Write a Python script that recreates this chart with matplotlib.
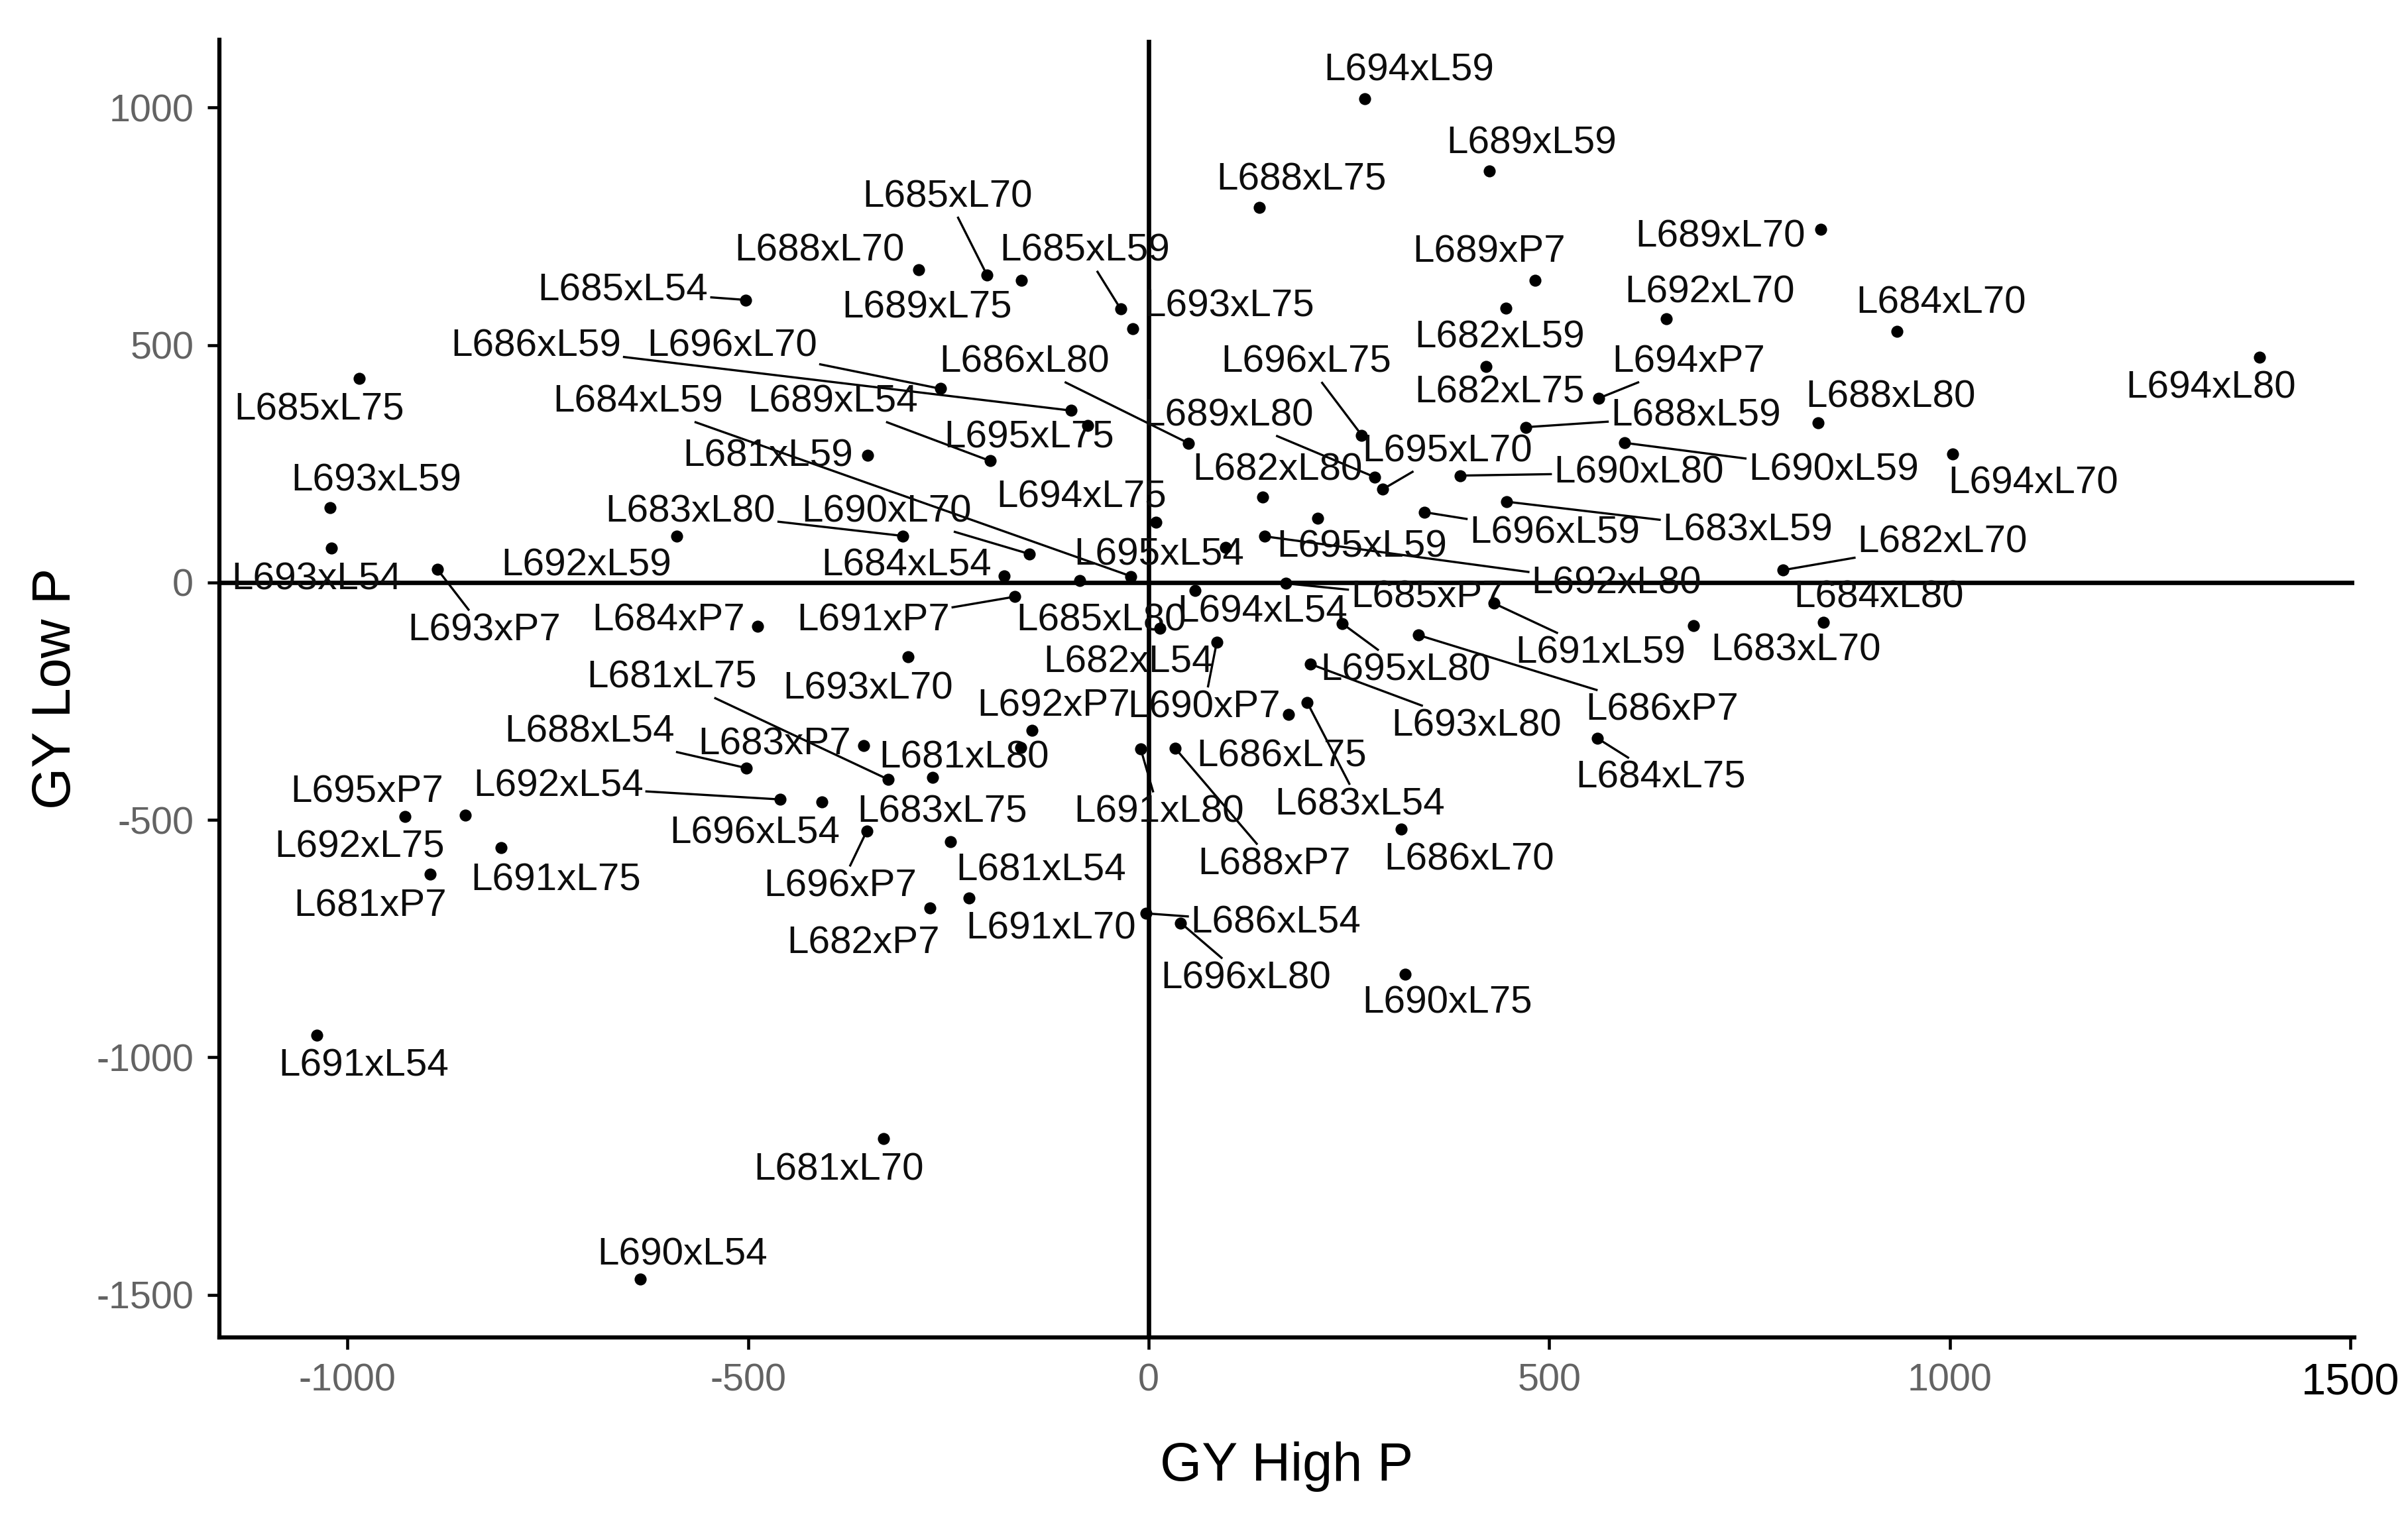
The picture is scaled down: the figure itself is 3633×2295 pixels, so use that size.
import matplotlib
matplotlib.use("Agg")
import matplotlib.pyplot as plt

plt.rcParams['font.family'] = ['Liberation Sans', 'DejaVu Sans']

# ---------------- data ----------------
hybrids = [
    "L681xL54", "L681xL59", "L681xL70", "L681xL75", "L681xL80", "L681xP7",
    "L682xL54", "L682xL59", "L682xL70", "L682xL75", "L682xL80", "L682xP7",
    "L683xL54", "L683xL59", "L683xL70", "L683xL75", "L683xL80", "L683xP7",
    "L684xL54", "L684xL59", "L684xL70", "L684xL75", "L684xL80", "L684xP7",
    "L685xL54", "L685xL59", "L685xL70", "L685xL75", "L685xL80", "L685xP7",
    "L686xL54", "L686xL59", "L686xL70", "L686xL75", "L686xL80", "L686xP7",
    "L688xL54", "L688xL59", "L688xL70", "L688xL75", "L688xL80", "L688xP7",
    "L689xL54", "L689xL59", "L689xL70", "L689xL75", "L689xL80", "L689xP7",
    "L690xL54", "L690xL59", "L690xL70", "L690xL75", "L690xL80", "L690xP7",
    "L691xL54", "L691xL59", "L691xL70", "L691xL75", "L691xL80", "L691xP7",
    "L692xL54", "L692xL59", "L692xL70", "L692xL75", "L692xL80", "L692xP7",
    "L693xL54", "L693xL59", "L693xL70", "L693xL75", "L693xL80", "L693xP7",
    "L694xL54", "L694xL59", "L694xL70", "L694xL75", "L694xL80", "L694xP7",
    "L695xL54", "L695xL59", "L695xL70", "L695xL75", "L695xL80", "L695xP7",
    "L696xL54", "L696xL59", "L696xL70", "L696xL75", "L696xL80", "L696xP7",
]

gy_high_p = [
    -247, -351, -331, -325, -160, -897,
    14, 446, 792, 421, 142, -273,
    198, 447, 680, -270, -307, -356,
    -180, -22, 934, 560, 842, -488,
    -503, -35, -202, -985, -86, 171,
    -3, -97, 315, 175, 50, 337,
    -502, 471, -287, 138, 836, 33,
    -198, 425, 839, -159, 282, 482,
    -635, 594, -149, 320, 389, 85,
    -1038, 431, -224, -808, -10, -167,
    -460, -589, 646, -853, 145, -146,
    -1020, -1022, -300, -20, 202, -888,
    58, 270, 1004, 9, 1387, 562,
    96, 211, 292, -76, 242, -928,
    -408, 344, -260, 266, 40, -352,
]

gy_low_p = [
    -546, 268, -1171, -415, -348, -615,
    -97, 577, 26, 455, 180, -686,
    -253, 170, -91, -411, 98, -344,
    14, 13, 529, -328, -84, -92,
    595, 576, 648, 429, 4, -2,
    -697, 362, -520, -278, 293, -111,
    -391, 327, 658, 790, 336, -349,
    256, 866, 744, 636, 222, 636,
    -1467, 294, 60, -825, 225, -126,
    -953, -44, -665, -559, -350, -30,
    -457, 97, 555, -490, 97, -312,
    73, 157, -157, 534, -172, 28,
    -17, 1018, 271, 127, 474, 388,
    74, 135, 196, 331, -87, -493,
    -462, 148, 408, 310, -717, -524,
]

x_ticks = [-1000, -500, 0, 500, 1000, 1500]
y_ticks = [-1500, -1000, -500, 0, 500, 1000]

# ---------------- layout (label placement, repel-style) ----------------
label_pos = {
    "L681xL54": (-134, -607), "L681xL59": (-475, 266), "L681xL70": (-387, -1237),
    "L681xL75": (-595, -201), "L681xL80": (-230, -370), "L681xP7": (-972, -682),
    "L682xL54": (-25, -169), "L682xL59": (438, 516), "L682xL70": (991, 84),
    "L682xL75": (438, 399), "L682xL80": (161, 237), "L682xP7": (-356, -760),
    "L683xL54": (264, -468), "L683xL59": (748, 110), "L683xL70": (808, -143),
    "L683xL75": (-258, -484), "L683xL80": (-572, 149), "L683xP7": (-467, -341),
    "L684xL54": (-302, 36), "L684xL59": (-637, 380), "L684xL70": (989, 588),
    "L684xL75": (639, -412), "L684xL80": (911, -32), "L684xP7": (-599, -81),
    "L685xL54": (-656, 614), "L685xL59": (-80, 698), "L685xL70": (-251, 812),
    "L685xL75": (-1035, 364), "L685xL80": (-59, -81), "L685xP7": (348, -32),
    "L686xL54": (159, -717), "L686xL59": (-765, 497), "L686xL70": (400, -584),
    "L686xL75": (166, -367), "L686xL80": (-155, 464), "L686xP7": (641, -269),
    "L688xL54": (-698, -315), "L688xL59": (683, 351), "L688xL70": (-411, 698),
    "L688xL75": (191, 847), "L688xL80": (926, 390), "L688xP7": (157, -594),
    "L689xL54": (-394, 380), "L689xL59": (478, 925), "L689xL70": (714, 727),
    "L689xL75": (-277, 578), "L689xL80": (100, 351), "L689xP7": (425, 695),
    "L690xL54": (-582, -1416), "L690xL59": (855, 237), "L690xL70": (-327, 149),
    "L690xL75": (373, -886), "L690xL80": (612, 231), "L690xP7": (69, -263),
    "L691xL54": (-980, -1019), "L691xL59": (564, -149), "L691xL70": (-122, -730),
    "L691xL75": (-740, -627), "L691xL80": (13, -484), "L691xP7": (-344, -81),
    "L692xL54": (-737, -429), "L692xL59": (-702, 36), "L692xL70": (700, 610),
    "L692xL75": (-985, -558), "L692xL80": (584, -3), "L692xP7": (-119, -260),
    "L693xL54": (-1039, 6), "L693xL59": (-964, 214), "L693xL70": (-350, -224),
    "L693xL75": (101, 581), "L693xL80": (409, -302), "L693xP7": (-829, -101),
    "L694xL54": (142, -62), "L694xL59": (325, 1078), "L694xL70": (1104, 208),
    "L694xL75": (-84, 179), "L694xL80": (1326, 409), "L694xP7": (674, 464),
    "L695xL54": (13, 58), "L695xL59": (266, 75), "L695xL70": (373, 276),
    "L695xL75": (-149, 305), "L695xL80": (321, -185), "L695xP7": (-976, -442),
    "L696xL54": (-492, -529), "L696xL59": (507, 104), "L696xL70": (-520, 497),
    "L696xL75": (197, 464), "L696xL80": (121, -834), "L696xP7": (-385, -640),
}

with_segment = {
    "L685xL70", "L685xL54", "L685xL59", "L686xL59", "L696xL70", "L684xL59",
    "L689xL54", "L686xL80", "L696xL75", "L694xP7", "L688xL59", "L690xL59",
    "L689xL80", "L695xL70", "L690xL80", "L696xL59", "L683xL59", "L682xL70",
    "L683xL80", "L690xL70", "L693xP7", "L691xP7", "L692xL80", "L685xP7",
    "L695xL80", "L691xL59", "L686xP7", "L693xL80", "L681xL75", "L688xL54",
    "L692xL54", "L690xP7", "L683xL54", "L688xP7", "L691xL80", "L696xP7",
    "L686xL54", "L696xL80", "L684xL75",
}

# ---------------- figure ----------------
fig = plt.figure(figsize=(12.11, 7.65), dpi=300)
ax = fig.add_axes([0.0911, 0.1207, 0.9777 - 0.0911, 0.9739 - 0.1207])

ax.set_xlim(-1160, 1505)
ax.set_ylim(-1590, 1143)

for s in ["top", "right"]:
    ax.spines[s].set_visible(False)
for s in ["left", "bottom"]:
    ax.spines[s].set_linewidth(1.5)
    ax.spines[s].set_color("black")

ax.axhline(0, color="black", lw=1.6, zorder=1)
ax.axvline(0, color="black", lw=1.6, zorder=1)

ax.scatter(gy_high_p, gy_low_p, s=19, color="black", zorder=4, linewidths=0)

texts = []
for name in hybrids:
    lx, ly = label_pos[name]
    t = ax.text(lx, ly, name, fontsize=14, ha="center", va="center",
                color="#0d0d0d", zorder=3)
    texts.append(t)

ax.set_xticks(x_ticks)
ax.set_yticks(y_ticks)
ax.set_xticklabels([str(v) for v in x_ticks])
ax.set_yticklabels([str(v) for v in y_ticks])
ax.tick_params(axis="both", length=4.3, width=1.1, color="black",
               labelcolor="#636363", labelsize=13.8, pad=5)
lbl = ax.get_xticklabels()[-1]
lbl.set_color("black")
lbl.set_fontsize(16)

ax.set_xlabel("GY High P", fontsize=19.5, color="black")
ax.set_ylabel("GY Low P", fontsize=19.5, color="black")
ax.xaxis.label.set_va("center")
ax.yaxis.label.set_va("center")
ax.xaxis.set_label_coords(0.5, -0.0996)
ax.yaxis.set_label_coords(-0.0765, 0.5)

# leader segments from point to label box edge
fig.canvas.draw()
renderer = fig.canvas.get_renderer()
inv = ax.transData.inverted()
pad = 3
for name, x, y, t in zip(hybrids, gy_high_p, gy_low_p, texts):
    if name not in with_segment:
        continue
    bb = t.get_window_extent(renderer)
    x0, x1 = bb.x0 - pad, bb.x1 + pad
    y0, y1 = bb.y0 - pad, bb.y1 + pad
    px, py = ax.transData.transform((x, y))
    cx, cy = (bb.x0 + bb.x1) / 2, (bb.y0 + bb.y1) / 2
    dx, dy = cx - px, cy - py
    tx = 0.0
    if px < x0 and dx != 0:
        tx = (x0 - px) / dx
    elif px > x1 and dx != 0:
        tx = (x1 - px) / dx
    ty = 0.0
    if py < y0 and dy != 0:
        ty = (y0 - py) / dy
    elif py > y1 and dy != 0:
        ty = (y1 - py) / dy
    tt = max(tx, ty)
    ex, ey = px + tt * dx, py + tt * dy
    (ax_, ay_), (bx_, by_) = inv.transform([(px, py), (ex, ey)])
    ax.plot([ax_, bx_], [ay_, by_], color="black", lw=0.8, zorder=2,
            solid_capstyle="butt")

fig.savefig("out.png", dpi=300)
